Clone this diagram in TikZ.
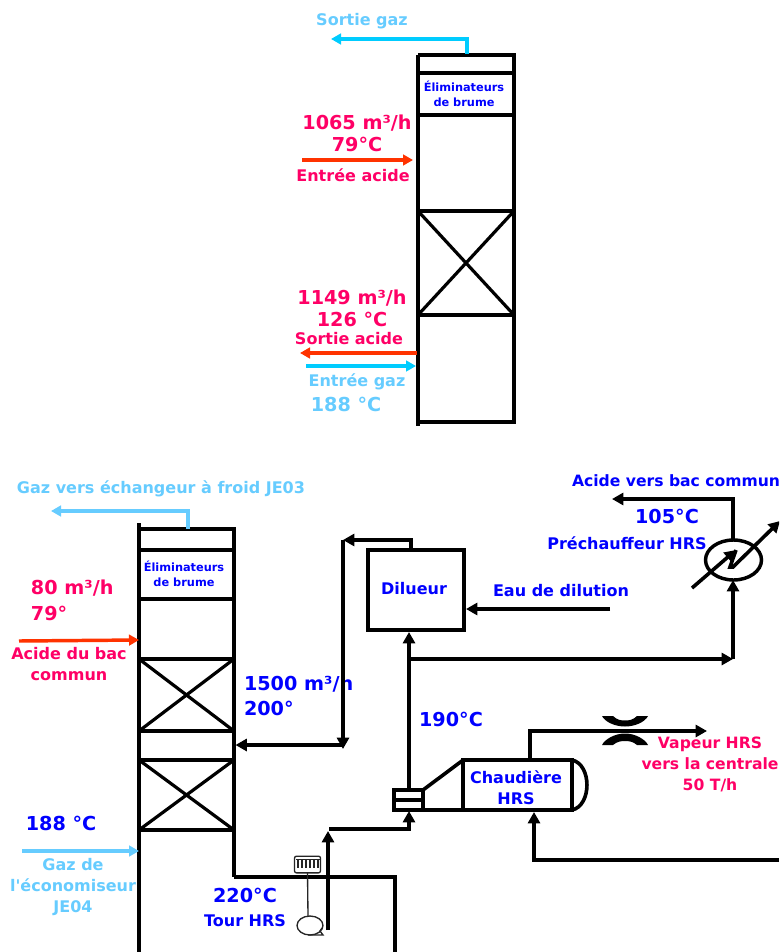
\documentclass[tikz,border=0pt]{standalone}
\usepackage{fontspec}
\setmainfont{DejaVu Sans}
\usetikzlibrary{arrows.meta,shapes.geometric}
\definecolor{lblpink}{HTML}{FF0066}
\definecolor{lblsky}{HTML}{66CCFF}
\definecolor{lblblue}{HTML}{0000FF}
\definecolor{gascyan}{HTML}{00CCFF}
\definecolor{acidred}{HTML}{FF3300}
\tikzset{
  x=0.75pt,y=-0.75pt,
  lbl/.style={inner sep=0pt,outer sep=0pt,align=center,anchor=center},
  big/.style={lbl,font=\fontsize{14.4}{16.5}\selectfont\bfseries},
  mid/.style={lbl,font=\fontsize{12}{15.75}\selectfont\bfseries},
  midfit/.style={lbl,font=\fontsize{11.7}{15.75}\selectfont\bfseries},
  tiny/.style={lbl,font=\fontsize{8.5}{11}\selectfont\bfseries},
  pink/.style={text=lblpink},
  sky/.style={text=lblsky},
  blu/.style={text=lblblue},
  wall/.style={draw=black,line width=3.4pt},
  band/.style={draw=black,line width=2.8pt},
  crossline/.style={draw=black,line width=2.4pt},
  pipe/.style={draw=black,line width=2.7pt,line join=miter},
  pipetip/.style={pipe,-{Triangle[length=8.5pt,width=9pt]}},
  flowtip/.style={-{Triangle[length=7.5pt,width=8pt]},line width=2.6pt},
  gas/.style={flowtip,draw=gascyan},
  gassoft/.style={flowtip,draw=lblsky},
  acid/.style={flowtip,draw=acidred},
  thinline/.style={draw=black!85,line width=1pt},
  box/.style={draw=black,line width=3.2pt,inner sep=0pt,outer sep=0pt,rectangle,anchor=center}
}
\begin{document}
\begin{tikzpicture}
\clip (0,0) rectangle (779,952);
\fill[white] (0,0) rectangle (779,952);

% ---------- upper tower
\coordinate (aTL) at (418,55); \coordinate (aTR) at (514,55);
\coordinate (aBLw) at (418,426); \coordinate (aBL) at (418,422); \coordinate (aBR) at (514,422);
\draw[wall] (aTL) -- (aBLw);
\draw[wall,line join=miter] (aTL) -- (aTR) -- (aBR) -- (aBL);
\foreach \n/\yy in {a1/73,a2/115,a3/211,a4/315}{
  \coordinate (\n L) at (418,\yy); \coordinate (\n R) at (514,\yy);
  \draw[band] (\n L) -- (\n R);
}
\draw[crossline] (a3L) -- (a4R) (a3R) -- (a4L);
\node[tiny,blu] (aElim) at (464,94) {Éliminateurs\\de brume};

\coordinate (aGasOut) at (467,54); \coordinate (aGasC) at (467,39); \coordinate (aGasEnd) at (331,39);
\draw[gas] (aGasOut) -- (aGasC) -- (aGasEnd);
\node[mid,sky] (aSortieGaz) at (362,21) {Sortie gaz};
\node[big,pink] (aFlow) at (357,133) {1065 m³/h\\79°C};
\coordinate (aAcidS) at (302,160); \coordinate (aAcidE) at (413,160);
\draw[acid] (aAcidS) -- (aAcidE);
\node[mid,pink] (aEntreeAcide) at (353,175) {Entrée acide};
\node[big,pink] (aFlow2) at (352,308) {1149 m³/h\\126 °C};
\node[mid,pink] (aSortieAcide) at (349,339) {Sortie acide};
\coordinate (aAcidOutS) at (417,353); \coordinate (aAcidOutE) at (300,353);
\draw[acid] (aAcidOutS) -- (aAcidOutE);
\coordinate (aGasInS) at (306,366); \coordinate (aGasInE) at (416,366);
\draw[gas] (aGasInS) -- (aGasInE);
\node[mid,sky] (aEntreeGaz) at (357,382) {Entrée gaz};
\node[big,sky] (aT) at (346,404) {188 °C};

% ---------- lower tower
\coordinate (bTLw) at (139,523); \coordinate (bTL) at (139,529); \coordinate (bTR) at (234,529);
\coordinate (bBL) at (139,952); \coordinate (bPipe) at (234,877);
\coordinate (bPipeC) at (395,877); \coordinate (bPipeE) at (395,952);
\draw[wall] (bTLw) -- (bBL);
\draw[wall] (bTL) -- (bTR) -- (bPipe);
\draw[pipe] (bPipe) -- (bPipeC) -- (bPipeE);
\foreach \n/\yy in {b1/550,b2/599,b3/659,b4/731,b5/760,b6/830}{
  \coordinate (\n L) at (139,\yy); \coordinate (\n R) at (234,\yy);
  \draw[band] (\n L) -- (\n R);
}
\draw[crossline] (b3L) -- (b4R) (b3R) -- (b4L);
\draw[crossline] (b5L) -- (b6R) (b5R) -- (b6L);
\node[tiny,blu] (bElim) at (184,574) {Éliminateurs\\de brume};

\coordinate (bGasOut) at (188,529); \coordinate (bGasC) at (188,511); \coordinate (bGasEnd) at (51,511);
\draw[gassoft] (bGasOut) -- (bGasC) -- (bGasEnd);
\node[mid,sky] (bGasLbl) at (161,489) {Gaz vers échangeur à froid JE03};
\node[big,pink,align=left,anchor=north west] (bFlow) at (31,580) {80 m³/h\\[3pt]79°};
\coordinate (bAcidS) at (19,641); \coordinate (bAcidE) at (139,640);
\draw[acid] (bAcidS) -- (bAcidE);
\node[mid,pink] (bAcidLbl) at (69,664) {Acide du bac\\commun};
\node[big,blu,align=left,anchor=north west] (bRecycle) at (244,676) {1500 m³/h\\[2pt]200°};
\node[big,blu] (bT) at (61,823) {188 °C};
\coordinate (bGasInS) at (22,851); \coordinate (bGasInE) at (139,851);
\draw[gassoft] (bGasInS) -- (bGasInE);
\node[mid,sky] (bEco) at (73,887) {Gaz de\\l\textquotesingle économiseur\\JE04};
\node[big,blu] (bT2) at (245,895) {220°C};
\node[mid,blu] (bTour) at (245,921) {Tour HRS};

% ---------- pump
\node[draw=black!85,line width=1pt,rounded corners=1.5pt,rectangle,minimum width=19.5pt,minimum height=12.5pt,inner sep=0pt,outer sep=0pt,fill=white] (filt) at (307.5,864.5) {};
\foreach \xx in {298,302,306,310,314,318}{ \draw[black!85,line width=0.8pt] (\xx,860) -- (\xx,868); }
\draw[black!85,line width=0.8pt] (296,859.5) -- (320,859.5);
\node[ellipse,draw=black!85,line width=1pt,minimum width=19.5pt,minimum height=14.25pt,inner sep=0pt,outer sep=0pt] (pump) at (310,925.5) {};
\coordinate (pumpT1) at (322,928); \coordinate (pumpT2) at (320,931); \coordinate (pumpT3) at (323,935); \coordinate (pumpT4) at (308,935);
\draw[thinline] (pumpT1) -- (pumpT2) -- (pumpT3) -- (pumpT4);
\coordinate (pumpShaft) at (308,916);
\draw[thinline] (filt.south) -- (pumpShaft);

% ---------- dilution and boiler
\node[box,minimum width=72pt,minimum height=60pt] (dil) at (416,590) {};
\node[mid,blu] (dilT) at (414,589) {Dilueur};
\node[box,minimum width=81.5pt,minimum height=37.5pt,line width=2.8pt] (boil) at (517.5,785) {};
\node[mid,blu] (boilT) at (516,787.5) {Chaudière\\HRS};
\node[box,minimum width=21.5pt,minimum height=15pt,line width=2.8pt] (small) at (408.5,800) {};
\coordinate (smallML) at (394,800); \coordinate (smallMR) at (423,800);
\draw[pipe,line width=2.4pt] (smallML) -- (smallMR);
\coordinate (coneT) at (423,790); \coordinate (coneB) at (423,810);
\draw[pipe] (coneT) -- (boil.north west);
\draw[pipe] (coneB) -- (boil.south west);
\draw[pipe] (boil.north east) .. controls (592,764) and (592,806) .. (boil.south east);

\coordinate (smallTop) at (409,790); \coordinate (dilIn) at (409,632);
\draw[pipetip] (smallTop) -- (dilIn);
\node[big,blu] (t190) at (451,719) {190°C};
\coordinate (dilWaterS) at (610,609); \coordinate (dilWaterE) at (466,609);
\draw[pipetip] (dilWaterS) -- (dilWaterE);
\node[mid,blu] (waterT) at (561,591) {Eau de dilution};

\coordinate (dilTop) at (411,549); \coordinate (dilC) at (411,540); \coordinate (dilC2) at (343,540);
\coordinate (recyC) at (343,749);\coordinate (recyD) at (343,745); \coordinate (towerIn) at (235.5,745);
\draw[pipetip] (dilTop) -- (dilC) -- (dilC2);
\draw[pipetip] (dilC2) -- (recyC);
\draw[pipetip] (recyD) -- (towerIn);

\coordinate (pumpOut) at (328,930); \coordinate (pumpOutE) at (328,831);
\draw[pipetip,line width=3pt] (pumpOut) -- (pumpOutE);
\coordinate (feedS) at (329,829); \coordinate (feedC) at (409,829); \coordinate (feedE) at (409,811);
\draw[pipetip] (feedS) -- (feedC) -- (feedE);

% ---------- preheater
\coordinate (teeBr) at (409,659); \coordinate (teeC) at (733,659);
\draw[pipetip] (teeBr) -- (teeC);
\node[ellipse,draw=black,line width=2.6pt,minimum width=42pt,minimum height=30pt,inner sep=0pt,outer sep=0pt] (hx) at (733.5,560) {};
\draw[pipetip] (teeC) -- (hx.south -| teeC);
\coordinate (hxUp) at (733,499); \coordinate (hxEnd) at (612,499);
\draw[pipetip] (hx.north -| hxUp) -- (hxUp) -- (hxEnd);
\coordinate (dA) at (692,588); \coordinate (dB) at (736,550);
\coordinate (dC) at (730,567); \coordinate (dD) at (733,567); \coordinate (dE) at (780,521);
\draw[pipe,-{Triangle[length=8.5pt,width=9pt]}] (dA) -- (dB);
\draw[pipe,-{Triangle[length=8.5pt,width=9pt]}] (dB) -- (dC) -- (dD) -- (dE);
\node[midfit,blu,anchor=west] (acT) at (572,481) {Acide vers bac commun};
\node[big,blu] (t105) at (667,516) {105°C};
\node[mid,blu] (preT) at (627,543) {Préchauffeur HRS};

% ---------- steam
\coordinate (stC) at (530,731); \coordinate (stE) at (707,731);
\draw[pipetip] (boil.north -| stC) -- (stC) -- (stE);
\coordinate (oA) at (602,716); \coordinate (oB) at (648,716);
\coordinate (oC) at (602,745); \coordinate (oD) at (648,745);
\fill[black] (oA) -- (613,716) .. controls (617,720) and (621,720.5) .. (625,720.5) .. controls (629,720.5) and (633,720) .. (637,716) -- (oB) .. controls (645,722) and (635,726.5) .. (625,726.5) .. controls (615,726.5) and (605,722) .. (oA) -- cycle;
\fill[black] (oC) -- (613,745) .. controls (617,741.5) and (621,741) .. (625,741) .. controls (629,741) and (633,741.5) .. (637,745) -- (oD) .. controls (645,739) and (635,733.5) .. (625,733.5) .. controls (615,733.5) and (605,739) .. (oC) -- cycle;
\node[midfit,pink] (vap) at (710,764) {Vapeur HRS\\vers la centrale\\50 T/h};

\coordinate (retE) at (779,860); \coordinate (retC) at (534,860); \coordinate (retT) at (534,812);
\draw[pipetip] (retE) -- (retC) -- (retT);
\end{tikzpicture}
\end{document}
